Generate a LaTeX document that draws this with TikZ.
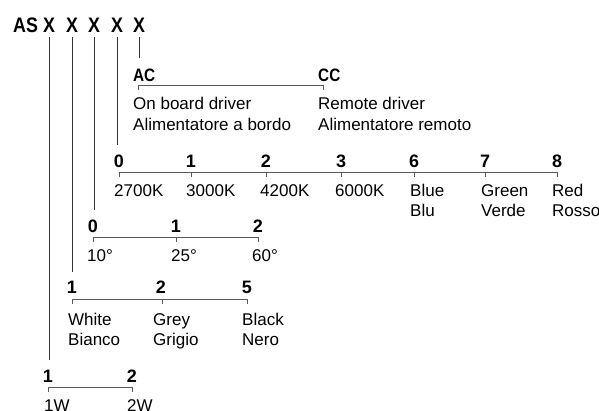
\documentclass[tikz,border=0pt]{standalone}
\usepackage{fontspec}
\setmainfont{Liberation Sans}
\newfontfamily\condbold{Liberation Sans}[FakeStretch=0.85]

\begin{document}
\begin{tikzpicture}[x=1pt, y=-1pt]
        \tikzstyle{head}=[inner sep=0pt, outer ysep=5pt, anchor=base, font=\condbold\bfseries\fontsize{21}{24}\selectfont]
        \tikzstyle{code}=[inner sep=0pt, anchor=base, font=\bfseries\fontsize{18}{20}\selectfont]
        \tikzstyle{kind}=[inner sep=0pt, anchor=base west, font=\condbold\bfseries\fontsize{18}{20}\selectfont]
        \tikzstyle{desc}=[inner sep=0pt, anchor=base west, align=left, font=\fontsize{17}{20.5}\selectfont]
        \tikzstyle{lead}=[line width=0.8pt, black!80]
        \tikzstyle{bar}=[line width=0.9pt, black!65]

        \useasboundingbox (0,0) rectangle (599,410);

        % code heading
        \node[head, anchor=base west] (as) at (13,32) {AS};
        \node[head] (x1) at (49,32) {X};
        \node[head] (x2) at (72,32) {X};
        \node[head] (x3) at (94,32) {X};
        \node[head] (x4) at (117,32) {X};
        \node[head] (x5) at (139,32) {X};

        \coordinate (e1) at (49,360);
        \coordinate (e2) at (72,272);
        \coordinate (e3) at (94,210);
        \coordinate (e4) at (117,145);
        \coordinate (e5) at (139,58);

        \draw[lead] (x1) -- (e1);
        \draw[lead] (x2) -- (e2);
        \draw[lead] (x3) -- (e3);
        \draw[lead] (x4) -- (e4);
        \draw[lead] (x5) -- (e5);

        % driver (multi-line nodes sit on their last line)
        \coordinate (ac) at (138,85);
        \coordinate (cc) at (323,85);
        \draw[bar] (ac) ++(0,5) -- (ac) -- (cc) -- ++(0,5);
        \node[kind] (acl) at (133,81) {AC};
        \node[kind] (ccl) at (318,81) {CC};
        \node[desc] (acd) at (133,130) {On board driver\\Alimentatore a bordo};
        \node[desc] (ccd) at (318,130) {Remote driver\\Alimentatore remoto};

        % colour
        \coordinate (k0) at (119,172);
        \coordinate (k1) at (191,172);
        \coordinate (k2) at (266,172);
        \coordinate (k3) at (341,172);
        \coordinate (k6) at (414,172);
        \coordinate (k7) at (485,172);
        \coordinate (k8) at (557,172);
        \draw[bar] (k0) ++(0,5) -- (k0) -- (k8) -- ++(0,5);
        \draw[bar] (k1) -- ++(0,5) (k2) -- ++(0,5) (k3) -- ++(0,5)
                   (k6) -- ++(0,5) (k7) -- ++(0,5);
        \node[code] (k0l) at (119,167) {0};
        \node[code] (k1l) at (191,167) {1};
        \node[code] (k2l) at (266,167) {2};
        \node[code] (k3l) at (341,167) {3};
        \node[code] (k6l) at (414,167) {6};
        \node[code] (k7l) at (485,167) {7};
        \node[code] (k8l) at (557,167) {8};
        \node[desc] (k0d) at (114,196) {2700K};
        \node[desc] (k1d) at (186,196) {3000K};
        \node[desc] (k2d) at (260,196) {4200K};
        \node[desc] (k3d) at (335,196) {6000K};
        \node[desc] (k6d) at (410,216.5) {Blue\\Blu};
        \node[desc] (k7d) at (481,216.5) {Green\\Verde};
        \node[desc] (k8d) at (552,216.5) {Red\\Rosso};

        % beam angle
        \coordinate (b0) at (93,237);
        \coordinate (b1) at (176,237);
        \coordinate (b2) at (258,237);
        \draw[bar] (b0) ++(0,5) -- (b0) -- (b2) -- ++(0,5);
        \draw[bar] (b1) -- ++(0,5);
        \node[code] (b0l) at (93,232) {0};
        \node[code] (b1l) at (176,232) {1};
        \node[code] (b2l) at (258,232) {2};
        \node[desc] (b0d) at (87,261) {10°};
        \node[desc] (b1d) at (171,261) {25°};
        \node[desc] (b2d) at (252,261) {60°};

        % finish
        \coordinate (f1) at (72,299);
        \coordinate (f2) at (162,299);
        \coordinate (f5) at (247,299);
        \draw[bar] (f1) ++(0,5) -- (f1) -- (f5) -- ++(0,5);
        \draw[bar] (f2) -- ++(0,5);
        \node[code] (f1l) at (72,293) {1};
        \node[code] (f2l) at (161,293) {2};
        \node[code] (f5l) at (247,293) {5};
        \node[desc] (f1d) at (68,345.5) {White\\Bianco};
        \node[desc] (f2d) at (153,345.5) {Grey\\Grigio};
        \node[desc] (f5d) at (242,345.5) {Black\\Nero};

        % power
        \coordinate (p1) at (48,387);
        \coordinate (p2) at (132,387);
        \draw[bar] (p1) ++(0,5) -- (p1) -- (p2) -- ++(0,5);
        \node[code] (p1l) at (48,382) {1};
        \node[code] (p2l) at (132,382) {2};
        \node[desc] (p1d) at (44,411) {1W};
        \node[desc] (p2d) at (127,411) {2W};
\end{tikzpicture}
\end{document}
